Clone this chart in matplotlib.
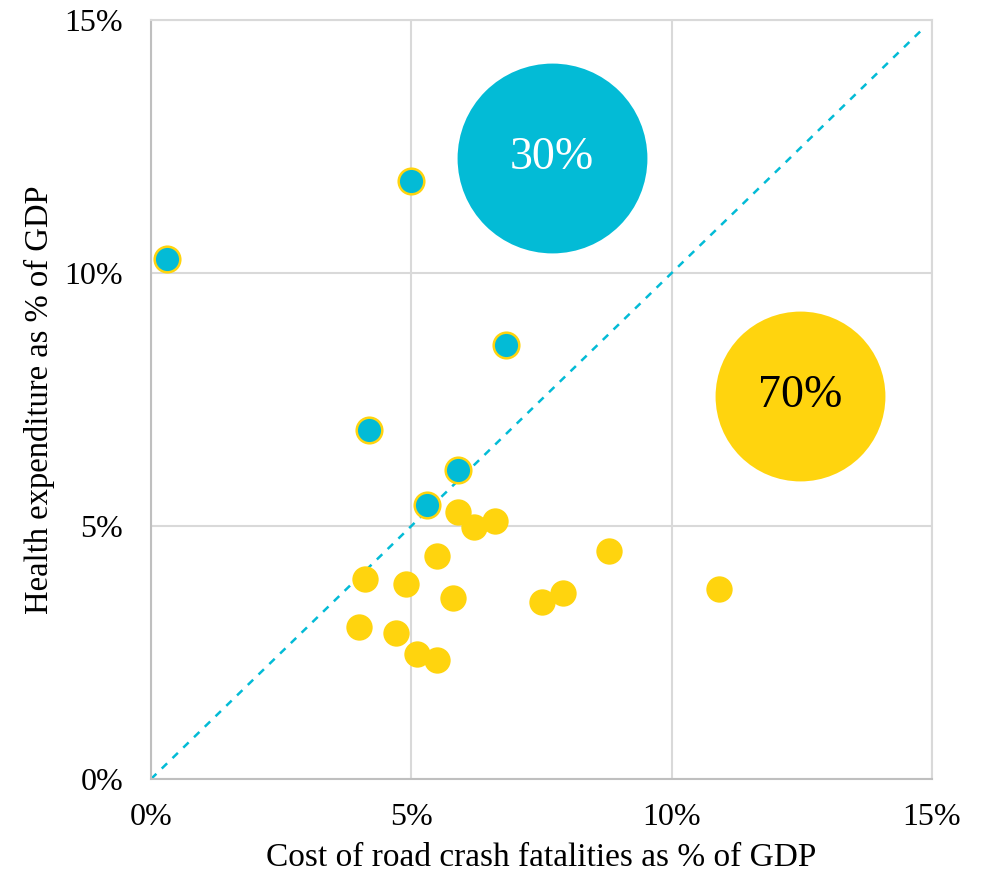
import matplotlib.pyplot as plt
from matplotlib.ticker import PercentFormatter

# Countries above the line (health spending > crash cost)
blue_x = [0.31, 5.00, 6.82, 4.19, 5.90, 5.30]
blue_y = [10.28, 11.82, 8.58, 6.90, 6.11, 5.42]

# Countries below the line
yellow_x = [5.90, 6.20, 6.61, 5.49, 4.11, 4.90, 5.80, 4.00, 4.71, 5.11, 5.49, 7.51, 7.91, 8.80, 10.91]
yellow_y = [5.28, 4.98, 5.10, 4.41, 3.95, 3.85, 3.58, 3.00, 2.89, 2.47, 2.35, 3.50, 3.68, 4.51, 3.75]

# Share bubbles
share_labels = ['30%', '70%']
share_x = [7.70, 12.46]
share_y = [12.27, 7.57]

blue = '#03BBD6'
yellow = '#FFD40E'

plt.rcParams['font.family'] = ['Liberation Serif', 'DejaVu Serif']

fig = plt.figure(figsize=(9.94, 8.75), dpi=100)
ax = fig.add_axes([0.1519, 0.1097, 0.7857, 0.8674])

ax.set_xlim(0, 15)
ax.set_ylim(0, 15)
ax.set_xticks([0, 5, 10, 15])
ax.set_yticks([0, 5, 10, 15])
ax.xaxis.set_major_formatter(PercentFormatter(decimals=0))
ax.yaxis.set_major_formatter(PercentFormatter(decimals=0))
ax.tick_params(length=0, labelsize=23)
ax.tick_params(axis='x', pad=17)
ax.tick_params(axis='y', pad=20)
ax.grid(True, color='#D9D9D9', lw=1.5, zorder=0)
for side in ['top', 'right']:
    ax.spines[side].set_color('#D9D9D9')
    ax.spines[side].set_linewidth(1.5)
for side in ['left', 'bottom']:
    ax.spines[side].set_color('#BFBFBF')
    ax.spines[side].set_linewidth(1.5)

# parity line
ax.plot([0, 14.8], [0, 14.8], ls=(0, (3, 3)), color=blue, lw=1.8, zorder=2)

# share bubbles
ax.scatter(share_x[0], share_y[0], s=95**2 * 2.07, color=blue, lw=0, zorder=1)
ax.scatter(share_x[1], share_y[1], s=85**2 * 2.07, color=yellow, lw=0, zorder=1)
ax.text(share_x[0], share_y[0], share_labels[0], color='white', fontsize=33,
        ha='center', va='center', zorder=3)
ax.text(share_x[1], share_y[1], share_labels[1], color='black', fontsize=33,
        ha='center', va='center', zorder=3)

ax.scatter(yellow_x, yellow_y, s=360, color=yellow, lw=0, zorder=3)
ax.scatter(blue_x, blue_y, s=340, color=blue, edgecolor=yellow, lw=1.8, zorder=4)

ax.set_xlabel('Cost of road crash fatalities as % of GDP', fontsize=24, labelpad=8)
ax.set_ylabel('Health expenditure as % of GDP', fontsize=23.5, labelpad=7)

fig.savefig('out.png', dpi=100)
